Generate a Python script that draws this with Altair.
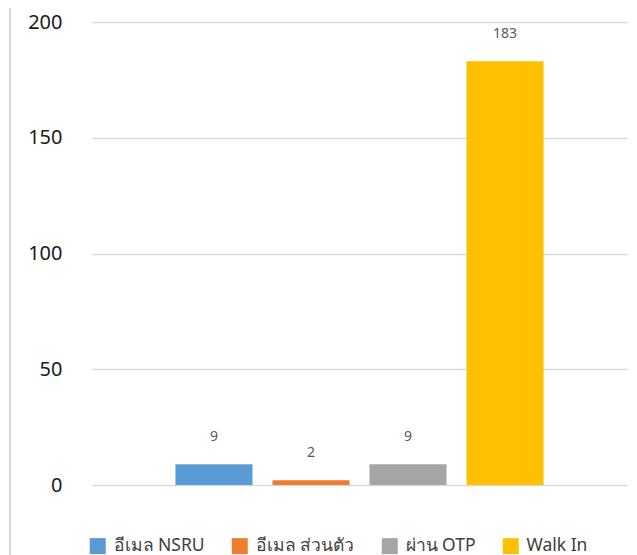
import altair as alt
import pandas as pd

categories = ["อีเมล NSRU", "อีเมล ส่วนตัว", "ผ่าน OTP", "Walk In"]
values = [9, 2, 9, 183]
colors = ["#5B9BD5", "#ED7D31", "#A5A5A5", "#FFC000"]

df = pd.DataFrame({"cat": categories, "val": values})

FONT = "Noto Sans"

x_enc = alt.X("cat:N", sort=categories, axis=None,
              scale=alt.Scale(paddingInner=0.206, paddingOuter=0.86))
y_scale = alt.Scale(domain=[0, 200], nice=False)

bars = alt.Chart(df).mark_bar().encode(
    x=x_enc,
    y=alt.Y("val:Q", scale=y_scale,
            axis=alt.Axis(values=[0, 50, 100, 150, 200], domain=False, ticks=False,
                          grid=True, gridColor="#d9d9d9", gridWidth=1.3,
                          labelFont=FONT, labelFontSize=20, labelColor="#1a1a1a",
                          labelPadding=30, title=None)),
    color=alt.Color("cat:N", sort=categories,
                    scale=alt.Scale(domain=categories, range=colors),
                    legend=alt.Legend(orient="none", legendX=-3, legendY=515,
                                      direction="horizontal", title=None,
                                      symbolType="square", symbolSize=256,
                                      symbolStrokeWidth=0, symbolOpacity=1,
                                      labelFont=FONT, labelFontSize=17.5,
                                      labelColor="#404040", columnPadding=26,
                                      labelOffset=7)),
)

labels = alt.Chart(df).mark_text(font=FONT, fontSize=14, color="#595959",
                                 baseline="middle", dy=-27).encode(
    x=alt.X("cat:N", sort=categories), y=alt.Y("val:Q", scale=y_scale),
    text="val:Q",
)

border = alt.Chart(df).mark_rule(color="#d9d9d9", strokeWidth=2).encode(
    x=alt.value(-82), y=alt.value(-30), y2=alt.value(580)
)

chart = alt.layer(border, bars, labels).properties(
    width=535, height=463,
    autosize=alt.AutoSizeParams(type="none"),
    padding={"left": 84, "top": 14, "right": 2, "bottom": 90},
).configure_view(stroke=None)

chart.save("out.html", embed_options={"renderer": "svg", "actions": False})
